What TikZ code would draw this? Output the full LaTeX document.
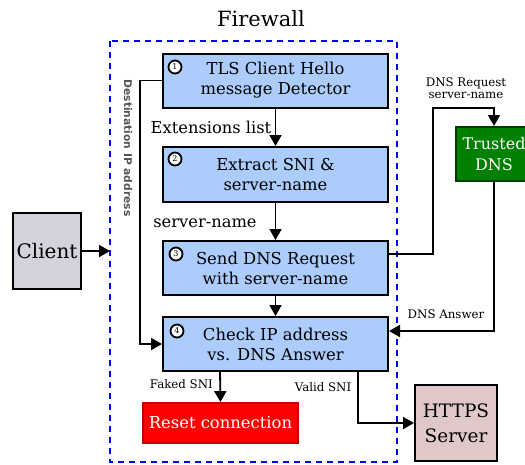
\documentclass[tikz,border=0pt]{standalone}
\usepackage{fontspec}
\setmainfont{DejaVu Serif}
\newfontfamily\labsans{DejaVu Sans}
\usetikzlibrary{arrows.meta,calc}
\definecolor{boxblue}{RGB}{172,204,252}
\definecolor{clientgray}{RGB}{211,211,220}
\definecolor{dnsgreen}{RGB}{0,128,0}
\definecolor{dnsborder}{RGB}{0,60,0}
\definecolor{httpsfill}{RGB}{224,200,200}
\definecolor{resetred}{RGB}{255,0,0}
\definecolor{resetborder}{RGB}{190,0,0}
\definecolor{vlabel}{RGB}{85,85,85}
\tikzset{
  stepbox/.style={draw=black, line width=2pt, fill=boxblue, minimum width=225pt, minimum height=54pt, inner sep=0pt, align=center, font=\fontsize{16.4}{20}\selectfont},
  numcirc/.style={circle, draw=black, line width=1.8pt, fill=white, minimum size=13pt, inner sep=0pt, font=\fontsize{8}{8}\selectfont},
  conn/.style={line width=1.8pt, -{Triangle[length=11pt,width=12pt]}},
  smalllab/.style={font=\fontsize{11.8}{12.5}\selectfont, align=center, inner sep=0pt},
  midlab/.style={font=\fontsize{16.3}{18}\selectfont, inner sep=0pt}
}
\begin{document}
\begin{tikzpicture}[x=1pt,y=-1pt]
\useasboundingbox (0,0) rectangle (525,464);
% firewall frame
\draw[blue, line width=1.8pt, dash pattern=on 6pt off 5pt] (110,41) rectangle (397,462);
\node[font=\fontsize{21}{21}\selectfont, inner sep=0pt] (fwtitle) at (261,19) {Firewall};
\node[font=\labsans\bfseries\fontsize{10.7}{10.7}\selectfont, text=vlabel, rotate=-90, inner sep=0pt] (dstlab) at (128,148) {Destination IP address};
% boxes
\node[stepbox] (b1) at (275.5,80.5) {TLS Client Hello\\ message Detector};
\node[stepbox, minimum height=55pt] (b2) at (275.5,174.5) {Extract SNI \&\\ server-name};
\node[stepbox] (b3) at (275.5,268) {Send DNS Request\\ with server-name};
\node[stepbox] (b4) at (275.5,344) {Check IP address\\ vs. DNS Answer};
\node[numcirc] (n1) at (175,67) {1};
\node[numcirc] (n2) at (175,159) {2};
\node[numcirc] (n3) at (176,254) {3};
\node[numcirc] (n4) at (177,331) {4};
\node[draw=resetborder, line width=1.8pt, fill=resetred, text=white, minimum width=155pt, minimum height=40pt, inner sep=0pt, font=\fontsize{16.4}{18}\selectfont] (reset) at (220.5,423) {Reset connection};
\node[draw=black, line width=2pt, fill=clientgray, minimum width=68pt, minimum height=76pt, inner sep=0pt, font=\fontsize{20}{20}\selectfont] (client) at (47,251) {Client};
\node[draw=dnsborder, line width=2pt, fill=dnsgreen, text=white, minimum width=76pt, minimum height=54pt, inner sep=0pt, align=center, font=\fontsize{16}{21}\selectfont] (dns) at (494,154) {Trusted\\DNS};
\node[draw=black, line width=2pt, fill=httpsfill, minimum width=82pt, minimum height=76pt, inner sep=0pt, align=center, font=\fontsize{18.5}{25}\selectfont] (https) at (456,423) {HTTPS\\ Server};
% entry point
\coordinate (fwin) at (110,251);
\draw[conn] (client.east) -- (fwin);
% vertical chain
\draw[conn] (b1.south) -- (b2.north);
\draw[conn] (b2.south) -- (b3.north);
\draw[conn] (b3.south) -- (b4.north);
\node[midlab] (extl) at (211,127) {Extensions list};
\node[midlab] (snl) at (205,223) {server-name};
% destination IP path
\draw[conn] (b1.west) -- ++(-22,0) |- (b4.west);
% DNS request
\coordinate (reqout) at ($(b3.east)+(0,-14)$);
\draw[conn] (reqout) -- (433,254) -- (433,108) -| (dns.north);
\node[smalllab] (reql) at (466,88) {DNS Request\\server-name};
% DNS answer
\coordinate (ansin) at ($(b4.east)+(0,-13)$);
\draw[conn] (dns.south) |- (ansin);
\node[smalllab] (ansl) at (446,314) {DNS Answer};
% outcomes
\coordinate (fakeout) at (220,371);
\draw[conn] (fakeout) -- (reset.north);
\node[smalllab, anchor=east] (fakel) at (213,384) {Faked SNI};
\coordinate (validout) at (358,371);
\draw[conn] (validout) |- (https.west);
\node[smalllab] (validl) at (323,387) {Valid SNI};
\end{tikzpicture}
\end{document}
